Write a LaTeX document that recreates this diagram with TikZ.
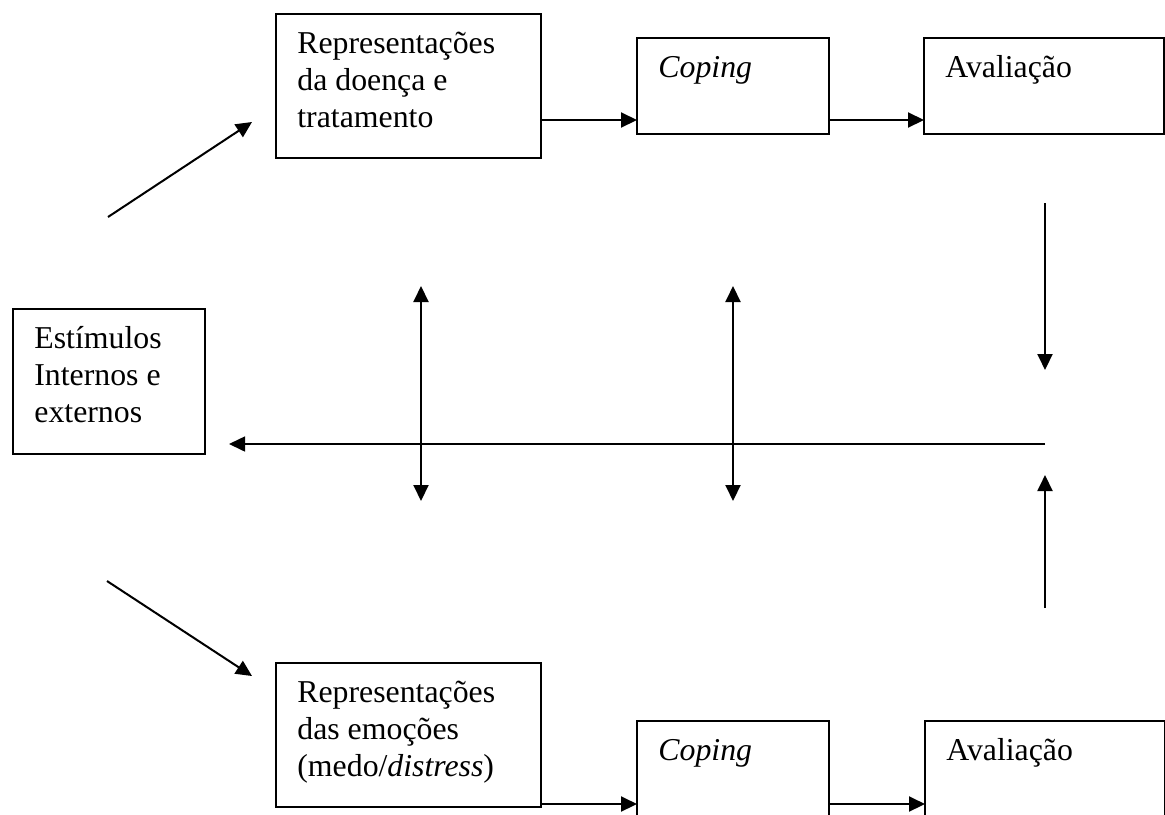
\documentclass[tikz,border=0pt]{standalone}
\usepackage{fontspec}
\setmainfont{Liberation Serif}
\usetikzlibrary{arrows.meta}
\newcommand\firstln{\rule{0pt}{19.5pt}}
\begin{document}
\begin{tikzpicture}[x=0.5pt,y=-0.5pt,
  box/.style={draw, line width=1pt, rectangle, anchor=north west, inner sep=0pt, outer sep=0pt},
  txt/.style={anchor=north west, inner sep=0pt, align=left, xshift=10.5pt,
    font=\fontsize{15.9pt}{18.4pt}\selectfont},
  tip/.style={},
  arr/.style={line width=1pt, -{Triangle[length=8pt,width=7.5pt]}},
  darr/.style={line width=1pt, {Triangle[length=8pt,width=7.5pt]}-{Triangle[length=8pt,width=7.5pt]}}
]
\useasboundingbox (0,0) rectangle (1165,814);

% boxes
\node[box, minimum width=96pt, minimum height=72.5pt,
  label={[txt]north west:{\firstln Estímulos\\Internos e\\externos}}] (stim) at (13,309) {};
\node[box, minimum width=132.5pt, minimum height=72pt,
  label={[txt]north west:{\firstln Representações\\da doença e\\tratamento}}] (rep1) at (276,14) {};
\node[box, minimum width=96pt, minimum height=48pt,
  label={[txt]north west:{\firstln\textit{Coping}}}] (cop1) at (637,38) {};
\node[box, minimum width=120pt, minimum height=48pt,
  label={[txt]north west:{\firstln Avaliação}}] (av1) at (924,38) {};
\node[box, minimum width=132.5pt, minimum height=72pt,
  label={[txt]north west:{\firstln Representações\\das emoções\\(medo/\textit{distress})}}] (rep2) at (276,663) {};
\node[box, minimum width=96pt, minimum height=50pt,
  label={[txt]north west:{\firstln\textit{Coping}}}] (cop2) at (637,721) {};
\node[box, minimum width=120pt, minimum height=50pt,
  label={[txt]north west:{\firstln Avaliação}}] (av2) at (925,721) {};

% helper coordinates
\coordinate (yTop) at (0,120);
\coordinate (yBot) at (0,804);
\coordinate (d1) at (1045,203);
\coordinate (d2) at (1045,370);
\coordinate (h1) at (1045,444);
\coordinate (h2) at (229,444);
\coordinate (u1) at (1045,608);
\coordinate (u2) at (1045,475);
\coordinate (a1) at (421,286);
\coordinate (a2) at (421,501);
\coordinate (b1) at (733,286);
\coordinate (b2) at (733,501);
\coordinate (s1) at (108,217);
\coordinate (s2) at (252,122);
\coordinate (t1) at (107,581);
\coordinate (t2) at (252,676);

% connectors
\draw[arr] (rep1.east |- yTop) -- (cop1.west |- yTop);
\draw[arr] (cop1.east |- yTop) -- (av1.west |- yTop);
\draw[arr] (rep2.east |- yBot) -- (cop2.west |- yBot);
\draw[arr] (cop2.east |- yBot) -- (av2.west |- yBot);
\draw[arr] (d1) -- (d2);
\draw[arr, line width=0.8pt] (h1) -- (h2);
\draw[arr] (u1) -- (u2);
\draw[darr] (a1) -- (a2);
\draw[darr] (b1) -- (b2);
\draw[arr] (s1) -- (s2);
\draw[arr] (t1) -- (t2);
\end{tikzpicture}
\end{document}
